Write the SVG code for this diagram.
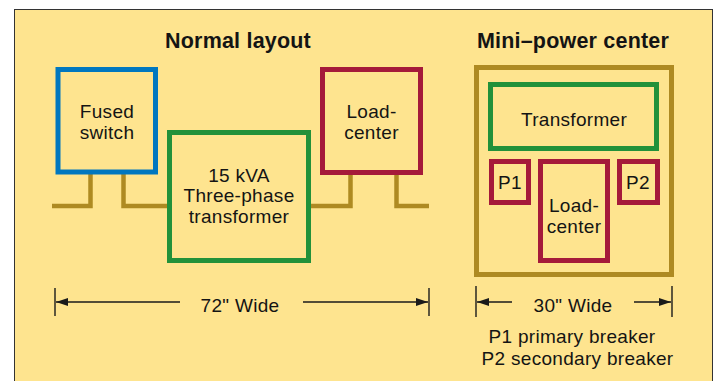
<svg xmlns="http://www.w3.org/2000/svg" width="717" height="381" viewBox="0 0 717 381">
<defs>
<style>
.t{font-family:"Liberation Sans",Arial,sans-serif;font-size:19px;letter-spacing:0.3px;fill:#141414;text-anchor:middle}
.h{font-family:"Liberation Sans",Arial,sans-serif;font-size:21.5px;letter-spacing:0.2px;font-weight:bold;fill:#141414;text-anchor:middle}
.box{fill:none;stroke-width:5}
.bus{fill:none;stroke:#AE8A22;stroke-width:4.5}
.dim{fill:none;stroke:#1a1a1a;stroke-width:1.4}
</style>
<marker id="ah" viewBox="0 0 12 8" refX="12" refY="4" markerWidth="12" markerHeight="8" markerUnits="userSpaceOnUse" orient="auto-start-reverse">
<path d="M0,0 L12,4 L0,8 Z" fill="#1a1a1a"/>
</marker>
</defs>
<rect x="0" y="0" width="717" height="381" fill="#ffffff"/>
<rect x="14.5" y="9.5" width="698" height="380" fill="#FEE48F" stroke="#333333" stroke-width="1"/>
<text class="h" x="238" y="48">Normal layout</text>
<text class="h" x="573" y="48">Mini–power center</text>
<g id="connectors">
<polyline class="bus" points="52,206 90.5,206 90.5,174"/>
<polyline class="bus" points="123.5,174 123.5,206 168,206"/>
<polyline class="bus" points="310,206 350.5,206 350.5,174"/>
<polyline class="bus" points="396.5,174 396.5,206 429,206"/>
</g>
<g id="fused-switch">
<rect class="box" stroke="#0077BF" x="58" y="69.5" width="97.5" height="102.5"/>
<text class="t" x="107" y="118">Fused</text>
<text class="t" x="107" y="139">switch</text>
</g>
<g id="transformer-15kva">
<rect class="box" stroke="#22913A" x="169.5" y="132.5" width="139" height="128"/>
<text class="t" x="239" y="182">15 kVA</text>
<text class="t" x="239" y="202">Three-phase</text>
<text class="t" x="239" y="223">transformer</text>
</g>
<g id="load-center">
<rect class="box" stroke="#A51A3A" x="322.5" y="69.5" width="98" height="103"/>
<text class="t" x="371.5" y="118">Load-</text>
<text class="t" x="371.5" y="139">center</text>
</g>
<g id="dim-72">
<line class="dim" x1="55" y1="288" x2="55" y2="316"/>
<line class="dim" x1="429" y1="288" x2="429" y2="316"/>
<line class="dim" x1="56" y1="302" x2="180" y2="302" marker-start="url(#ah)"/>
<line class="dim" x1="303" y1="302" x2="428" y2="302" marker-end="url(#ah)"/>
<text class="t" x="240" y="312">72" Wide</text>
</g>
<g id="mini-power-center">
<rect class="box" stroke="#AE8A22" x="476.5" y="67.5" width="195" height="207"/>
</g>
<g id="mini-transformer">
<rect class="box" stroke="#22913A" x="490.5" y="84.5" width="166" height="64"/>
<text class="t" x="574" y="126">Transformer</text>
</g>
<g id="p1">
<rect class="box" stroke="#A51A3A" x="491.5" y="161.5" width="37" height="41"/>
<text class="t" x="510" y="189">P1</text>
</g>
<g id="mini-load-center">
<rect class="box" stroke="#A51A3A" x="540.5" y="161.5" width="67" height="99"/>
<text class="t" x="574" y="212">Load-</text>
<text class="t" x="574" y="233">center</text>
</g>
<g id="p2">
<rect class="box" stroke="#A51A3A" x="619.5" y="161.5" width="38" height="41"/>
<text class="t" x="638" y="189">P2</text>
</g>
<g id="dim-30">
<line class="dim" x1="476" y1="286" x2="476" y2="317"/>
<line class="dim" x1="672" y1="286" x2="672" y2="317"/>
<line class="dim" x1="477" y1="302" x2="512" y2="302" marker-start="url(#ah)"/>
<line class="dim" x1="634" y1="302" x2="671" y2="302" marker-end="url(#ah)"/>
<text class="t" x="573" y="312">30" Wide</text>
</g>
<g id="legend">
<text class="t" x="572" y="343">P1 primary breaker</text>
<text class="t" x="577.5" y="365">P2 secondary breaker</text>
</g>
</svg>
